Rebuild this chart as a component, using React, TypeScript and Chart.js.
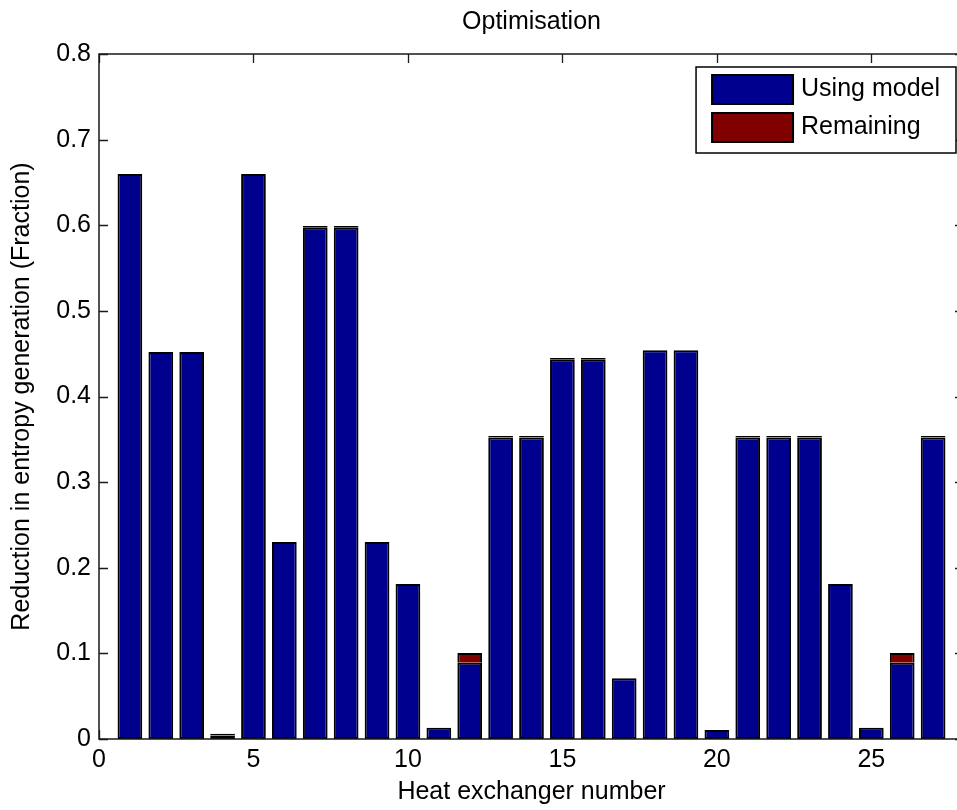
import React, { useEffect, useRef } from 'react';
import { Chart, registerables } from 'chart.js';

Chart.register(...registerables);

// ---- Data ----
const exchangers = [1, 2, 3, 4, 5, 6, 7, 8, 9, 10, 11, 12, 13, 14, 15, 16, 17, 18, 19, 20, 21, 22, 23, 24, 25, 26, 27];
const usingModel = [0.660, 0.452, 0.452, 0.004, 0.660, 0.230, 0.597, 0.597, 0.230, 0.181, 0.013, 0.089, 0.352, 0.352, 0.443, 0.443, 0.071, 0.454, 0.454, 0.0105, 0.352, 0.352, 0.352, 0.181, 0.013, 0.089, 0.352];
const remaining = [0, 0, 0, 0.002, 0, 0, 0.002, 0.002, 0, 0, 0, 0.0115, 0.002, 0.002, 0.002, 0.002, 0, 0, 0, 0, 0.002, 0.002, 0.002, 0, 0, 0.0115, 0.002];
const seriesNames = ['Using model', 'Remaining'];
const seriesColors = ['#00008F', '#800000'];
const xTickValues = [0, 5, 10, 15, 20, 25];
const yTickValues = [0, 0.1, 0.2, 0.3, 0.4, 0.5, 0.6, 0.7, 0.8];
const chartTitle = 'Optimisation';
const xTitle = 'Heat exchanger number';
const yTitle = 'Reduction in entropy generation (Fraction)';

const FONT = "'Liberation Sans', Arial, Helvetica, sans-serif";
const FS = 25;

const matlabAxes = {
  id: 'matlabAxes',
  beforeDatasetsDraw(chart: any) {
    const { ctx, chartArea: ca, scales } = chart;
    const tl = 9;
    ctx.save();
    ctx.strokeStyle = '#1a1a1a';
    ctx.lineWidth = 1.3;
    ctx.beginPath();
    for (const v of xTickValues) {
      const x = Math.round(scales.x.getPixelForValue(v)) + 0.5;
      ctx.moveTo(x, ca.bottom);
      ctx.lineTo(x, ca.bottom - tl);
      ctx.moveTo(x, ca.top);
      ctx.lineTo(x, ca.top + tl);
    }
    for (const v of yTickValues) {
      const y = Math.round(scales.y.getPixelForValue(v)) + 0.5;
      ctx.moveTo(ca.left, y);
      ctx.lineTo(ca.left + tl, y);
      ctx.moveTo(ca.right, y);
      ctx.lineTo(ca.right - tl, y);
    }
    ctx.stroke();
    ctx.restore();
  },
  afterDatasetsDraw(chart: any) {
    const { ctx, chartArea: ca } = chart;
    ctx.save();
    // axes box
    ctx.strokeStyle = '#1a1a1a';
    ctx.lineWidth = 1.5;
    ctx.strokeRect(ca.left, ca.top, ca.right - ca.left, ca.bottom - ca.top);

    // legend
    ctx.font = `${FS}px ${FONT}`;
    const labels = chart.data.datasets.map((d: any) => d.label);
    const textW = Math.max(...labels.map((l: string) => ctx.measureText(l).width));
    const padL = 16, swW = 81, swH = 29, gap = 8, padR = 16, rowH = 38, padT = 8, padB = 11;
    const boxW = padL + swW + gap + textW + padR;
    const boxH = padT + rowH * (labels.length - 1) + swH + padB;
    const right = ca.right - 8;
    const top = ca.top + 13;
    const left = right - boxW;
    ctx.fillStyle = '#ffffff';
    ctx.fillRect(left, top, boxW, boxH);
    ctx.lineWidth = 1.5;
    ctx.strokeStyle = '#000';
    ctx.strokeRect(left, top, boxW, boxH);
    chart.data.datasets.forEach((d: any, i: number) => {
      const sy = top + padT + i * rowH;
      ctx.fillStyle = d.backgroundColor;
      ctx.fillRect(left + padL, sy, swW, swH);
      ctx.strokeStyle = '#000';
      ctx.lineWidth = 2;
      ctx.strokeRect(left + padL, sy, swW, swH);
      ctx.fillStyle = '#000';
      ctx.textAlign = 'left';
      ctx.textBaseline = 'middle';
      ctx.fillText(d.label, left + padL + swW + gap, sy + swH / 2);
    });
    ctx.restore();
  },
};

export default function App() {
  const canvasRef = useRef<HTMLCanvasElement | null>(null);

  useEffect(() => {
    if (!canvasRef.current) return;
    Chart.defaults.font.family = FONT;
    Chart.defaults.color = '#000';
    const chart = new Chart(canvasRef.current, {
      type: 'bar',
      data: {
        datasets: [
          {
            label: seriesNames[0],
            data: exchangers.map((x, i) => ({ x, y: usingModel[i] })),
            backgroundColor: seriesColors[0],
            borderColor: '#000',
            borderWidth: 2,
            borderSkipped: false,
            categoryPercentage: 1,
            barPercentage: 0.8,
          },
          {
            label: seriesNames[1],
            data: exchangers.map((x, i) => ({ x, y: remaining[i] })),
            backgroundColor: seriesColors[1],
            borderColor: '#000',
            borderWidth: 2,
            borderSkipped: (c: any) => (remaining[c.dataIndex] > 0.005 ? 'bottom' : false),
            categoryPercentage: 1,
            barPercentage: 0.8,
          },
        ],
      },
      options: {
        responsive: false,
        animation: false,
        events: [],
        layout: { padding: { left: 0, right: 6, top: 0, bottom: 0 } },
        plugins: {
          legend: { display: false },
          tooltip: { enabled: false },
          title: {
            display: true,
            fullSize: false,
            text: chartTitle,
            color: '#000',
            font: { size: FS, family: FONT, weight: 'normal' },
            padding: { top: 7, bottom: 17 },
          },
        },
        scales: {
          x: {
            type: 'linear',
            min: 0,
            max: 28,
            offset: false,
            stacked: true,
            grid: { display: false, drawTicks: false },
            border: { display: false },
            ticks: { font: { size: FS, family: FONT }, color: '#000', padding: 6, maxRotation: 0, autoSkip: false },
            afterBuildTicks: (s: any) => {
              s.ticks = xTickValues.map((v) => ({ value: v }));
            },
            afterFit: (s: any) => {
              s.height = 71;
            },
            title: {
              display: true,
              text: xTitle,
              color: '#000',
              font: { size: FS, family: FONT },
              padding: { top: 0, bottom: 3 },
            },
          },
          y: {
            type: 'linear',
            min: 0,
            max: 0.8,
            stacked: true,
            grid: { display: false, drawTicks: false },
            border: { display: false },
            ticks: {
              font: { size: FS, family: FONT },
              color: '#000',
              padding: 8,
              callback: (v: any) => String(Number(Number(v).toFixed(1))),
            },
            afterBuildTicks: (s: any) => {
              s.ticks = yTickValues.map((v) => ({ value: v }));
            },
            afterFit: (s: any) => {
              s.width = 99;
            },
            title: {
              display: true,
              text: yTitle,
              color: '#000',
              font: { size: FS, family: FONT },
              padding: { top: 7, bottom: 0 },
            },
          },
        },
      },
      plugins: [matlabAxes],
    } as any);
    return () => chart.destroy();
  }, []);

  return (
    <div style={{ position: 'fixed', left: 0, top: 0, width: 957, height: 810, overflow: 'hidden', background: '#fff' }}>
      <canvas ref={canvasRef} width={970} height={810} style={{ display: 'block', width: 970, height: 810 }} />
    </div>
  );
}
